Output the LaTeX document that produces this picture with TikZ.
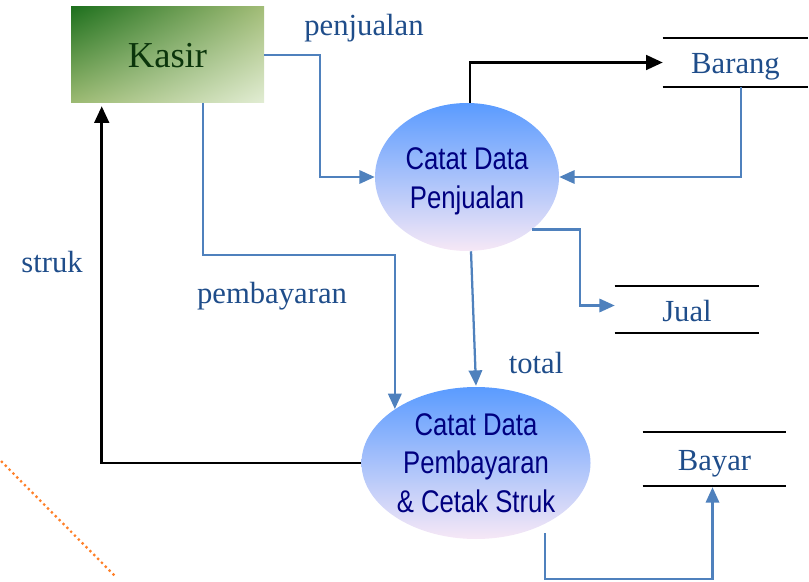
\documentclass[tikz,border=0pt]{standalone}
\usepackage{fontspec}
\setmainfont{Liberation Serif}
\newfontfamily\narrowsans[FakeStretch=0.82]{Liberation Sans}
\usetikzlibrary{arrows.meta,shapes.geometric,calc,shadings}

\definecolor{flowblue}{HTML}{4F81BD}
\definecolor{labelblue}{HTML}{1F4D8A}
\definecolor{procnavy}{HTML}{000080}
\definecolor{kasirtext}{HTML}{0B350B}
\definecolor{dotorange}{HTML}{FF7F27}
\definecolor{procTop}{HTML}{5A9BFF}
\definecolor{procMid}{HTML}{84BBFF}
\definecolor{procBot}{HTML}{F6E8F6}
\definecolor{entUL}{HTML}{1E701E}
\definecolor{entUR}{HTML}{A3BD78}
\definecolor{entLL}{HTML}{9CBA72}
\definecolor{entLR}{HTML}{E2EDD4}

\tikzset{
  flow/.style={draw=flowblue, line width=1.7pt, -{Triangle[length=11.5pt,width=10pt]}},
  ctrl/.style={draw=black, line width=2pt, -{Triangle[length=12.5pt,width=11pt]}},
  lbl/.style={text=labelblue, font=\fontsize{23}{28}\selectfont, anchor=base, inner sep=0pt},
  store/.style={text=labelblue, font=\fontsize{23}{28}\selectfont, inner sep=0pt,
    text height=17.25pt, text depth=0pt},
  storeline/.style={draw=black, line width=1.8pt},
  process/.style={ellipse, inner sep=0pt, text=procnavy, align=center,
    font=\narrowsans\fontsize{23.5}{28.9}\selectfont,
    top color=procTop, middle color=procMid, bottom color=procBot},
  entity/.style={rectangle, inner sep=0pt, text=kasirtext,
    font=\fontsize{27.4}{32}\selectfont, text height=19.5pt, text depth=0pt,
    shade, upper left=entUL, upper right=entUR,
    lower left=entLL, lower right=entLR},
}

\begin{document}
\begin{tikzpicture}[x=0.75pt, y=-0.75pt]
  \useasboundingbox (0,0) rectangle (809,581);

  % external entity
  \node[entity, minimum width=144.75pt, minimum height=72pt] (kasir) at (167.5,55) {Kasir};

  % processes
  \node[process, minimum width=138pt, minimum height=111pt, text height=51.4pt]
    (c1) at (467,177) {Catat Data\\Penjualan};
  \node[process, minimum width=171.75pt, minimum height=114pt]
    (c2) at (476,463) {Catat Data\\Pembayaran\\\& Cetak Struk};

  % data stores
  \node[store, minimum width=108.75pt, minimum height=36.75pt] (barang) at (735.5,62.5) {Barang};
  \node[store, minimum width=108pt, minimum height=35.25pt] (jual) at (687,309.5) {Jual};
  \node[store, minimum width=107.25pt, minimum height=40.5pt] (bayar) at (714.5,459) {Bayar};
  \foreach \s in {barang,jual,bayar}
    \draw[storeline] (\s.north west) -- (\s.north east) (\s.south west) -- (\s.south east);

  % data flows
  \draw[flow] (kasir.east) -- ++(56,0) |- (c1.west);
  \draw[ctrl] ($(c1.north)+(3,0)$) |- (barang.west);
  \draw[flow] ($(barang.south)+(5.5,0)$) |- (c1.east);
  \draw[flow] (c1.south east) -- ++(48,0) |- ($(jual.west)+(0,-4)$);
  \draw[flow] ($(c1.south)+(4,0)$) -- ($(c2.north)+(0,-1)$);
  \draw[flow] ($(kasir.south)+(35.5,0)$) -- ++(0,152) -| (c2.north west);
  \draw[ctrl] (c2.west) -| ($(kasir.south west)+(31,3)$);
  \draw[flow] ($(c2.south)+(69,-6)$) -- ++(0,46) -| ($(bayar.south)+(-2,1)$);

  % flow labels
  \node[lbl] (lpenjualan) at (364,36) {penjualan};
  \node[lbl] (lpembayaran) at (272,303) {pembayaran};
  \node[lbl] (lstruk) at (52,272) {struk};
  \node[lbl] (ltotal) at (536,373) {total};

  % dotted border accent
  \draw[dotorange, line width=2.4pt, dash pattern=on 0pt off 4.1pt, line cap=round]
    (-2,458) -- (117,578);
\end{tikzpicture}
\end{document}
